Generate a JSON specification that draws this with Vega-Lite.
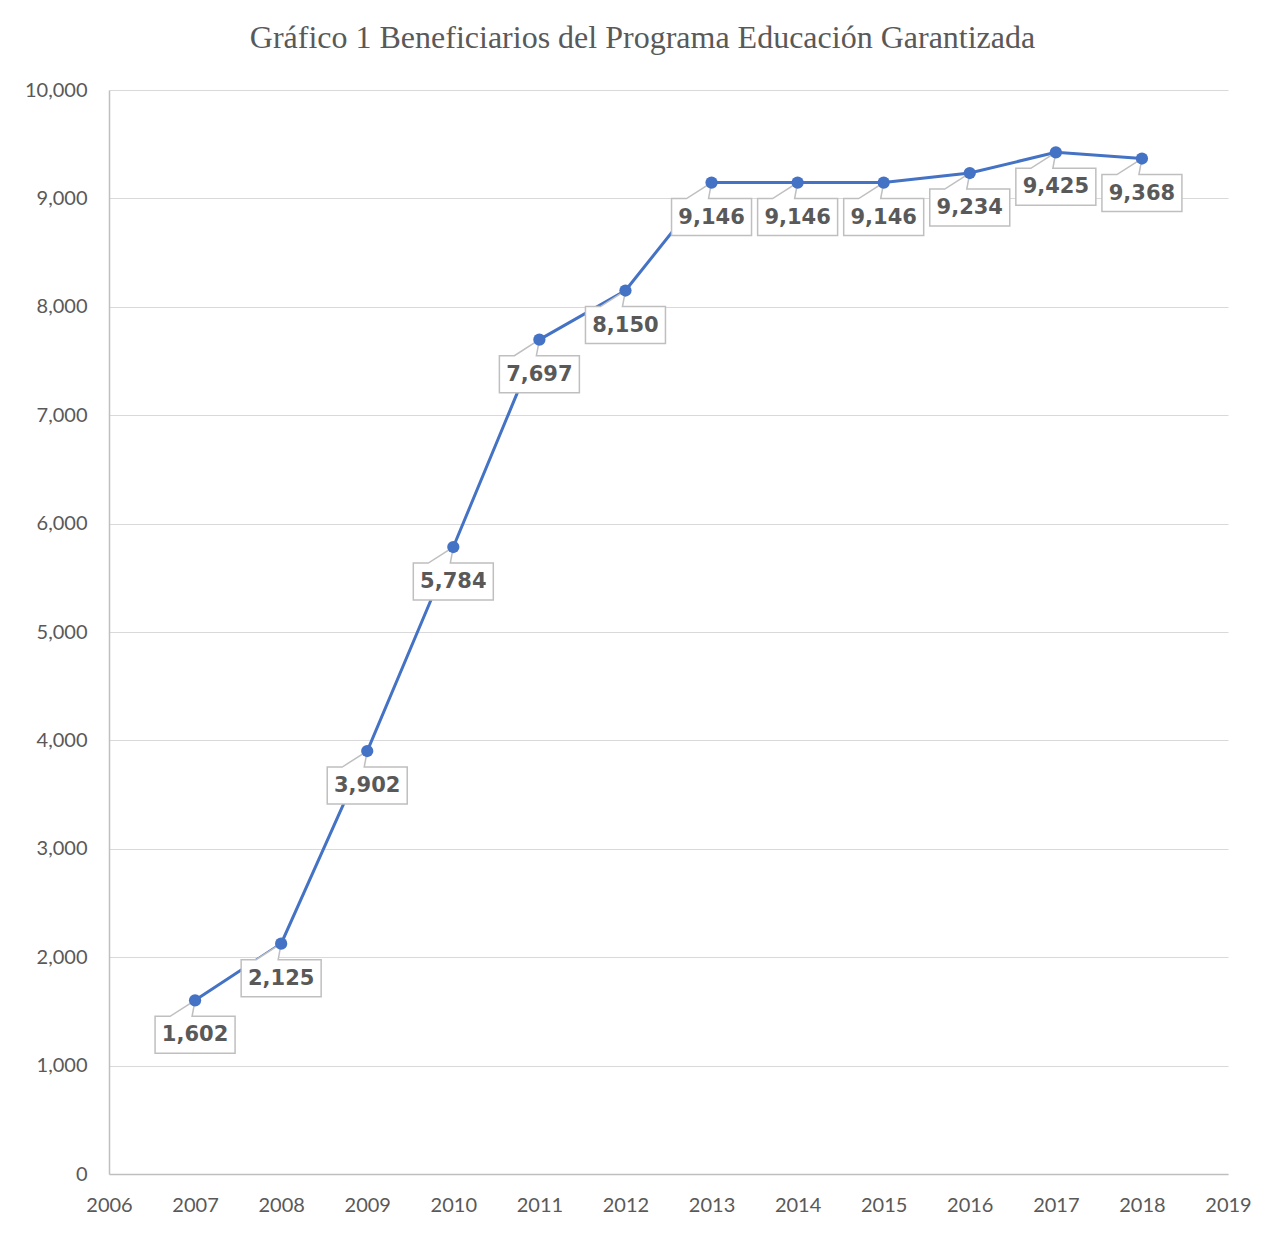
{
  "$schema": "https://vega.github.io/schema/vega-lite/v6.json",
  "width": 1119,
  "height": 1084,
  "autosize": {"type": "none"},
  "padding": {"left": 109, "top": 90, "right": 53, "bottom": 62},
  "background": "white",
  "title": {
    "text": "Gráfico 1 Beneficiarios del Programa Educación Garantizada",
    "font": "Liberation Serif",
    "fontSize": 32,
    "fontWeight": "normal",
    "color": "#595959",
    "anchor": "middle",
    "frame": "group",
    "dx": -26,
    "offset": 25
  },
  "data": {
    "values": [
      {"year": 2007, "value": 1602},
      {"year": 2008, "value": 2125},
      {"year": 2009, "value": 3902},
      {"year": 2010, "value": 5784},
      {"year": 2011, "value": 7697},
      {"year": 2012, "value": 8150},
      {"year": 2013, "value": 9146},
      {"year": 2014, "value": 9146},
      {"year": 2015, "value": 9146},
      {"year": 2016, "value": 9234},
      {"year": 2017, "value": 9425},
      {"year": 2018, "value": 9368}
    ]
  },
  "encoding": {
    "x": {
      "field": "year",
      "type": "quantitative",
      "scale": {"domain": [2006, 2019], "nice": false, "zero": false},
      "axis": {
        "title": null,
        "values": [2006, 2007, 2008, 2009, 2010, 2011, 2012, 2013, 2014, 2015, 2016, 2017, 2018, 2019],
        "format": "d",
        "grid": false,
        "ticks": false,
        "labelFlush": false,
        "labelOverlap": false,
        "domainColor": "#bfbfbf",
        "domainWidth": 1.5,
        "labelFont": "Lato",
        "labelFontSize": 20,
        "labelColor": "#595959",
        "labelPadding": 21
      }
    },
    "y": {
      "field": "value",
      "type": "quantitative",
      "scale": {"domain": [0, 10000], "nice": false},
      "axis": {
        "title": null,
        "values": [0, 1000, 2000, 3000, 4000, 5000, 6000, 7000, 8000, 9000, 10000],
        "format": ",.0f",
        "grid": true,
        "gridColor": "#d9d9d9",
        "gridWidth": 1.2,
        "ticks": false,
        "labelFlush": false,
        "labelOverlap": false,
        "domainColor": "#bfbfbf",
        "domainWidth": 1.5,
        "labelFont": "Lato",
        "labelFontSize": 20,
        "labelColor": "#595959",
        "labelPadding": 22
      }
    }
  },
  "layer": [
    {
      "mark": {"type": "line", "color": "#4472C4", "strokeWidth": 3}
    },
    {
      "mark": {
        "type": "point",
        "shape": "M0,0 L-0.075,0.4 L1,0.4 L1,1.325 L-1,1.325 L-1,0.4 L-0.625,0.4 Z",
        "size": 6400,
        "filled": true,
        "fill": "white",
        "fillOpacity": 1,
        "stroke": "#bfbfbf",
        "strokeWidth": 1.5,
        "opacity": 1
      }
    },
    {
      "mark": {
        "type": "point",
        "shape": "circle",
        "size": 150,
        "filled": true,
        "color": "#4472C4",
        "opacity": 1
      }
    },
    {
      "mark": {
        "type": "text",
        "dy": 35,
        "font": "DejaVu Sans",
        "fontWeight": "bold",
        "fontSize": 21,
        "color": "#595959",
        "baseline": "middle",
        "align": "center"
      },
      "encoding": {
        "text": {"field": "value", "type": "quantitative", "format": ","}
      }
    }
  ],
  "config": {
    "view": {"stroke": null}
  }
}
